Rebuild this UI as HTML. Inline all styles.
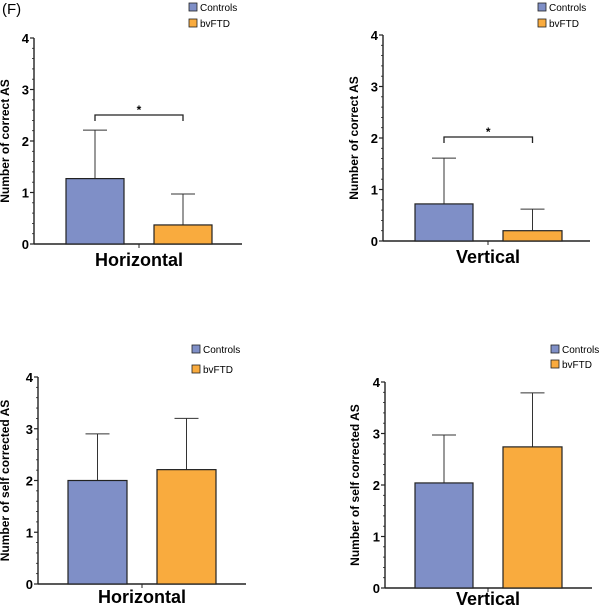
<!DOCTYPE html>
<html><head><meta charset="utf-8"><style>
body{margin:0;background:#fff;width:600px;height:606px;overflow:hidden}
svg{display:block}
text{font-family:"Liberation Sans",Arial,sans-serif}
</style></head><body>
<svg id="fig" width="600" height="606" viewBox="0 0 600 606" xmlns="http://www.w3.org/2000/svg">
<text x="2" y="14" font-size="15">(F)</text>
</svg>
<script>
const groups = ["Controls", "bvFTD"];
const p1Values = [1.27, 0.37];
const p1Errors = [2.21, 0.97];
const p2Values = [0.72, 0.20];
const p2Errors = [1.61, 0.62];
const p3Values = [2.0, 2.21];
const p3Errors = [2.9, 3.2];
const p4Values = [2.04, 2.74];
const p4Errors = [2.97, 3.79];
const yTicks = [0, 1, 2, 3, 4];
const colors = ["#7f8fc7", "#f9ab3e"];
const NS = "http://www.w3.org/2000/svg";
const svg = document.getElementById("fig");
function mk(tag, attrs, parent, txt){
  const e = document.createElementNS(NS, tag);
  for (const k in attrs) e.setAttribute(k, attrs[k]);
  if (txt !== undefined) e.textContent = txt;
  (parent || svg).appendChild(e);
  return e;
}
function panel(cfg){
  const g = mk("g", {});
  
  
  const y = v => cfg.y0 - v * (cfg.y0 - cfg.y4) / 4;
  const ya = mk("line", {x1: cfg.ax, x2: cfg.ax, y1: y(4), y2: y(0), stroke: "#222", "stroke-width": 1.4}, g);
  
  
  const xa = mk("line", {x1: cfg.ax, x2: cfg.axEnd, y1: y(0), y2: y(0), stroke: "#222", "stroke-width": 1.4}, g);
  
  
  for (let i = 0; i <= 20; i++) {
    const v = i / 5;
    const major = i % 5 === 0;
    mk("line", {x1: cfg.ax - (major ? 4 : 2), x2: cfg.ax, y1: y(v), y2: y(v), stroke: "#222", "stroke-width": major ? 1.2 : 0.8}, g);
  }
  yTicks.forEach(t => {
    const tl = mk("text", {x: cfg.ax - 5, y: y(t) + 5, "font-size": 13, "font-weight": "bold", "text-anchor": "end"}, g, String(t));
    
    
  });
  const mid = (cfg.bars[0][1] + cfg.bars[1][0]) / 2;
  mk("line", {x1: mid, x2: mid, y1: y(0), y2: y(0) + 4, stroke: "#222", "stroke-width": 1}, g);
  const xl = mk("text", {x: mid, y: y(0) + cfg.xlOff, "font-size": 18, "font-weight": "bold", "text-anchor": "middle"}, g, cfg.xlabel);
  
  
  const cy = (y(0) + y(4)) / 2;
  const yl = mk("text", {x: cfg.ylx, y: cy, "font-size": 12, "font-weight": "bold", "text-anchor": "middle", transform: `rotate(-90 ${cfg.ylx} ${cy})`}, g, cfg.ylabel);
  
  
  cfg.values.forEach((v, i) => {
    const [x0, x1] = cfg.bars[i];
    const cx = (x0 + x1) / 2;
    const el = mk("line", {x1: cx, x2: cx, y1: y(v), y2: y(cfg.errors[i]), stroke: "#333", "stroke-width": 1}, g);
    
    
    mk("line", {x1: cx - 12, x2: cx + 12, y1: y(cfg.errors[i]), y2: y(cfg.errors[i]), stroke: "#333", "stroke-width": 1}, g);
    const r = mk("rect", {x: x0, y: y(v), width: x1 - x0, height: y(0) - y(v), fill: colors[i], stroke: "#222", "stroke-width": 1.2}, g);
    
    
  });
  if (cfg.bracket) {
    const c0 = (cfg.bars[0][0] + cfg.bars[0][1]) / 2, c1 = (cfg.bars[1][0] + cfg.bars[1][1]) / 2;
    const by = cfg.bracket;
    const b = mk("path", {d: `M${c0} ${by + 6}V${by}H${c1}V${by + 6}`, fill: "none", stroke: "#222", "stroke-width": 1.3}, g);
    
    
    const s = mk("text", {x: (c0 + c1) / 2, y: by - 1, "font-size": 12, "font-weight": "bold", "text-anchor": "middle"}, g, "*");
    
    
  }
  groups.forEach((name, i) => {
    const ly = cfg.leg[1] + i * cfg.legGap;
    const lr = mk("rect", {x: cfg.leg[0], y: ly, width: 8, height: 8, fill: colors[i], stroke: "#222", "stroke-width": 0.8}, g);
    
    
    const lt = mk("text", {x: cfg.leg[0] + 11, y: ly + 8, "font-size": 10}, g, name);
    
    
  });
}
panel({name: "chart-correct-horizontal", ax: 34, axEnd: 242, y0: 244, y4: 38, bars: [[66, 124], [154, 212]], values: p1Values, errors: p1Errors, xlabel: "Horizontal", ylabel: "Number of correct AS", ylx: 9, bracket: 115, leg: [189, 3], legGap: 16, xlOff: 22});
panel({name: "chart-correct-vertical", ax: 383, axEnd: 590, y0: 241, y4: 35, bars: [[415, 473], [503, 562]], values: p2Values, errors: p2Errors, xlabel: "Vertical", ylabel: "Number of correct AS", ylx: 358, bracket: 137, leg: [538, 3], legGap: 16, xlOff: 22});
panel({name: "chart-selfcorrected-horizontal", ax: 38, axEnd: 246, y0: 584, y4: 377, bars: [[68, 127], [157, 216]], values: p3Values, errors: p3Errors, xlabel: "Horizontal", ylabel: "Number of self corrected AS", ylx: 9, bracket: null, leg: [192, 345], legGap: 20, xlOff: 19});
panel({name: "chart-selfcorrected-vertical", ax: 385, axEnd: 592, y0: 588, y4: 382, bars: [[415, 473], [503, 562]], values: p4Values, errors: p4Errors, xlabel: "Vertical", ylabel: "Number of self corrected AS", ylx: 359, bracket: null, leg: [551, 345], legGap: 15, xlOff: 17});
</script>
</body></html>
